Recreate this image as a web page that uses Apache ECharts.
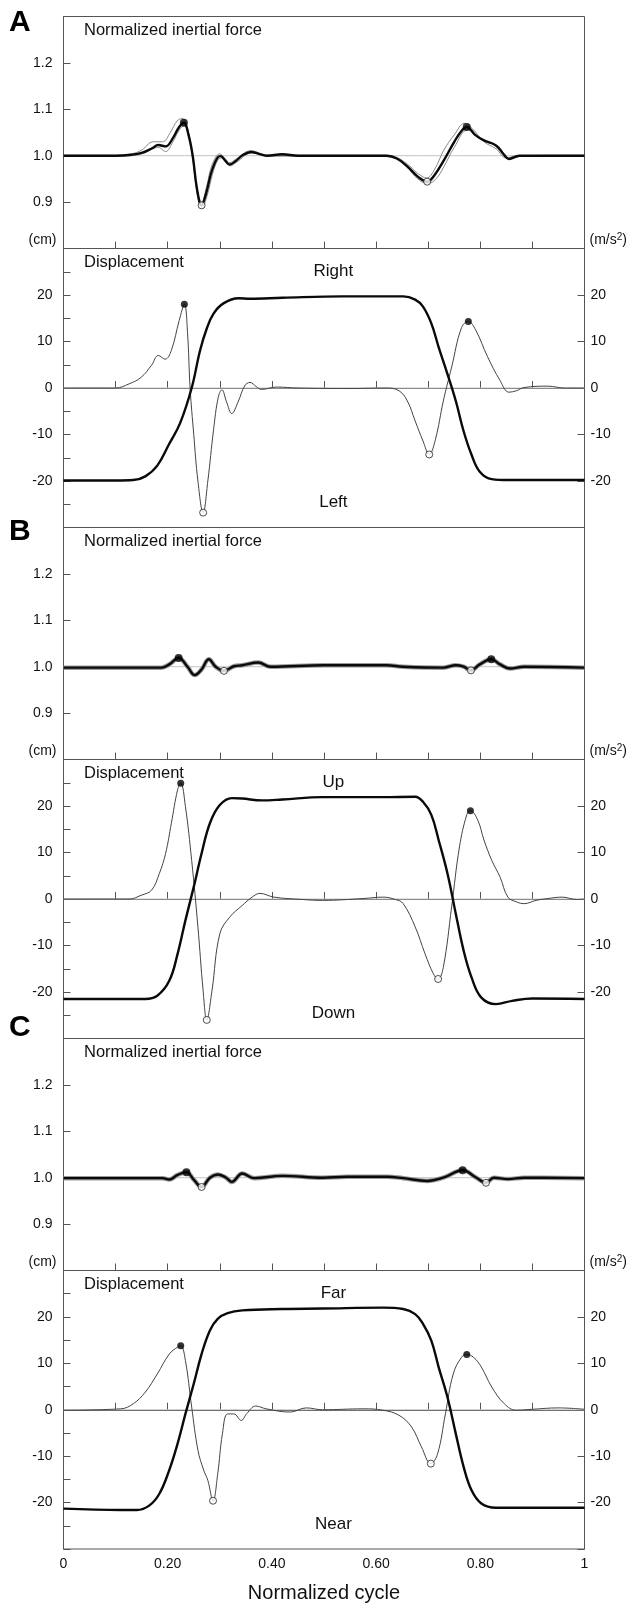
<!DOCTYPE html>
<html>
<head>
<meta charset="utf-8">
<script src="https://cdn.jsdelivr.net/npm/echarts@6/dist/echarts.min.js"></script>
<style>
html, body { margin: 0; padding: 0; background: #fff; }
#chart { width: 632px; height: 1604px; }
</style>
</head>
<body>
<div id="chart"></div>
<script>
// ---- A: left / right ----
const aForce = [[0,1.0],[0.1,1.0],[0.13,1.002],[0.15,1.006],[0.17,1.016],[0.182,1.023],[0.196,1.02],[0.21,1.038],[0.222,1.062],[0.231,1.071],[0.24,1.045],[0.248,1.0],[0.256,0.93],[0.265,0.893],[0.274,0.92],[0.284,0.965],[0.295,0.995],[0.302,0.999],[0.31,0.99],[0.319,0.981],[0.33,0.988],[0.345,1.002],[0.36,1.008],[0.375,1.004],[0.39,1.0],[0.42,1.003],[0.45,1.0],[0.55,1.0],[0.62,1.0],[0.64,0.994],[0.66,0.977],[0.68,0.955],[0.698,0.944],[0.712,0.958],[0.73,0.99],[0.75,1.03],[0.765,1.055],[0.774,1.062],[0.79,1.045],[0.807,1.033],[0.83,1.022],[0.845,1.003],[0.855,0.993],[0.875,1.0],[1,1.0]];
const aForceHi = [[0,1.001],[0.1,1.001],[0.13,1.004],[0.15,1.012],[0.172,1.03],[0.19,1.03],[0.205,1.05],[0.218,1.075],[0.228,1.08],[0.238,1.06],[0.247,1.0],[0.256,0.93],[0.265,0.9],[0.275,0.935],[0.285,0.98],[0.3,1.004],[0.31,0.994],[0.319,0.985],[0.33,0.992],[0.36,1.011],[0.39,1.001],[0.45,1.001],[0.62,1.001],[0.64,0.996],[0.66,0.982],[0.68,0.962],[0.697,0.952],[0.712,0.97],[0.73,1.012],[0.75,1.045],[0.77,1.07],[0.785,1.058],[0.807,1.03],[0.83,1.015],[0.85,0.995],[0.87,1.0],[1,1.001]];
const aForceLo = [[0,0.999],[0.1,0.999],[0.13,1.0],[0.15,1.004],[0.17,1.014],[0.182,1.018],[0.196,1.009],[0.21,1.03],[0.222,1.055],[0.232,1.066],[0.24,1.04],[0.249,0.99],[0.257,0.915],[0.266,0.888],[0.276,0.915],[0.286,0.96],[0.296,0.99],[0.304,0.995],[0.312,0.986],[0.32,0.978],[0.332,0.986],[0.362,1.006],[0.39,0.999],[0.45,0.999],[0.62,0.999],[0.64,0.992],[0.66,0.974],[0.68,0.95],[0.699,0.94],[0.715,0.95],[0.73,0.976],[0.75,1.018],[0.776,1.056],[0.795,1.04],[0.81,1.03],[0.835,1.02],[0.855,0.992],[0.88,0.999],[1,0.999]];
const aForcePeaks = [[0.231,1.071],[0.774,1.062]];
const aForceDips = [[0.265,0.893],[0.698,0.944]];
const aDisp = [[0,-19.9],[0.1,-19.9],[0.134,-19.8],[0.157,-19],[0.18,-16.7],[0.203,-12],[0.224,-7.5],[0.246,0],[0.262,8],[0.275,12.8],[0.288,16],[0.307,18.2],[0.336,19.3],[0.358,19.2],[0.42,19.4],[0.536,19.7],[0.652,19.7],[0.675,19],[0.69,17.5],[0.706,13.9],[0.72,8.8],[0.737,3],[0.753,-2.8],[0.768,-9.3],[0.783,-14.3],[0.799,-18],[0.822,-19.6],[0.853,-19.8],[1,-19.8]];
const aAcc = [[0,0],[0.1,0],[0.126,0.9],[0.149,2.3],[0.169,4.9],[0.182,7],[0.195,6.2],[0.207,8.1],[0.222,14.5],[0.232,18],[0.238,12],[0.243,0],[0.25,-10],[0.258,-20],[0.268,-26.8],[0.277,-20],[0.288,-9],[0.297,-2],[0.304,-0.4],[0.313,-3],[0.323,-5.5],[0.335,-3],[0.348,0.5],[0.358,1.2],[0.37,0.3],[0.38,-0.3],[0.409,0.2],[0.45,0],[0.55,-0.1],[0.62,0],[0.644,-0.6],[0.66,-2.8],[0.675,-7.1],[0.69,-11.4],[0.702,-14.3],[0.714,-11],[0.729,-2.8],[0.745,4.5],[0.764,13],[0.777,14.3],[0.791,12.5],[0.814,6.7],[0.838,1.6],[0.855,-0.9],[0.869,-0.6],[0.884,0.1],[0.93,0.4],[0.961,0],[1,0]];
const aAccPeaks = [[0.232,18],[0.777,14.3]];
const aAccDips = [[0.268,-26.8],[0.702,-14.3]];

// ---- B: up / down ----
const bForce = [[0,0.998],[0.188,0.998],[0.203,1.005],[0.221,1.019],[0.238,1.0],[0.252,0.982],[0.265,0.994],[0.279,1.016],[0.292,1.0],[0.308,0.991],[0.327,1.001],[0.343,1.003],[0.374,1.009],[0.397,1.0],[0.5,1.003],[0.62,1.003],[0.652,1.0],[0.729,0.998],[0.753,1.003],[0.768,1.0],[0.782,0.992],[0.799,1.005],[0.821,1.016],[0.838,1.005],[0.857,0.996],[0.884,1.0],[1,0.998]];
const bForcePeaks = [[0.221,1.019],[0.821,1.016]];
const bForceDips = [[0.308,0.991],[0.782,0.992]];
const bDisp = [[0,-21.5],[0.157,-21.5],[0.18,-20.8],[0.203,-17.6],[0.219,-11.8],[0.234,-4.6],[0.25,2.6],[0.265,9.8],[0.281,16.3],[0.3,20.2],[0.323,21.7],[0.343,21.6],[0.381,21.2],[0.42,21.4],[0.497,21.9],[0.613,21.9],[0.675,22],[0.69,20.9],[0.706,18.1],[0.72,12.7],[0.737,5.5],[0.753,-3.2],[0.768,-11.1],[0.783,-16.8],[0.802,-21.2],[0.83,-22.6],[0.861,-21.9],[0.9,-21.4],[1,-21.5]];
const bAcc = [[0,0],[0.126,0],[0.149,0.8],[0.169,1.9],[0.184,5.5],[0.196,9.8],[0.207,16.3],[0.219,23.5],[0.225,24.9],[0.234,19.9],[0.246,8.3],[0.258,-6],[0.268,-19.7],[0.275,-26],[0.285,-19.7],[0.3,-7.5],[0.319,-3.9],[0.343,-1.4],[0.362,0.4],[0.377,1.2],[0.404,0.4],[0.458,-0.1],[0.497,-0.3],[0.575,0.1],[0.613,0.4],[0.637,-0.1],[0.652,-1],[0.675,-6],[0.694,-11.8],[0.71,-16.1],[0.719,-17.2],[0.729,-14.7],[0.745,-1.7],[0.76,11.2],[0.774,18.1],[0.781,19],[0.795,17],[0.807,12.7],[0.822,8.3],[0.838,4.7],[0.853,0.4],[0.869,-0.6],[0.884,-1],[0.907,-0.3],[0.93,0.1],[0.957,0.4],[0.985,-0.1],[1,0]];
const bAccPeaks = [[0.225,24.9],[0.781,19]];
const bAccDips = [[0.275,-26],[0.719,-17.2]];

// ---- C: far / near ----
const cForce = [[0,0.999],[0.19,0.999],[0.203,0.996],[0.219,1.006],[0.236,1.012],[0.25,0.996],[0.265,0.98],[0.281,1.0],[0.296,1.007],[0.312,1.0],[0.323,0.991],[0.343,1.009],[0.366,0.999],[0.42,1.004],[0.497,1.0],[0.544,1.002],[0.621,1.002],[0.652,0.999],[0.698,0.993],[0.729,1.0],[0.766,1.016],[0.791,1.001],[0.811,0.989],[0.826,1.0],[0.853,0.997],[0.884,1.0],[1,0.999]];
const cForcePeaks = [[0.236,1.012],[0.766,1.016]];
const cForceDips = [[0.265,0.98],[0.811,0.989]];
const cDisp = [[0,-21.3],[0.11,-21.6],[0.141,-21.6],[0.165,-20.6],[0.184,-18.1],[0.203,-13],[0.219,-7.3],[0.234,-0.9],[0.25,5.6],[0.265,12],[0.281,17.1],[0.296,19.6],[0.315,20.8],[0.343,21.4],[0.42,21.7],[0.497,21.8],[0.613,22],[0.652,21.7],[0.675,20.6],[0.69,18.5],[0.706,14.9],[0.72,9.2],[0.737,2.7],[0.753,-5.2],[0.768,-12.3],[0.783,-17.3],[0.802,-20.2],[0.83,-21.1],[0.884,-21.1],[1,-21.1]];
const cAcc = [[0,-0.1],[0.11,0.2],[0.134,1.3],[0.157,3.8],[0.18,7.7],[0.203,12],[0.219,13.5],[0.225,13.8],[0.234,10.6],[0.246,0.6],[0.258,-8.7],[0.269,-13],[0.277,-15.2],[0.287,-19.6],[0.296,-13.8],[0.305,-5.2],[0.315,-0.9],[0.327,-0.9],[0.341,-2.3],[0.352,-0.8],[0.369,0.8],[0.389,0.2],[0.435,-0.5],[0.466,0.4],[0.497,0],[0.575,0.2],[0.613,-0.1],[0.644,-1.2],[0.668,-3.7],[0.687,-8],[0.705,-11.6],[0.718,-9.5],[0.733,-0.9],[0.748,7.7],[0.764,11.3],[0.774,11.9],[0.787,11.3],[0.802,9.2],[0.822,4.9],[0.846,1.3],[0.869,-0.1],[0.9,0.1],[0.95,0.4],[1,0.1]];
const cAccPeaks = [[0.225,13.8],[0.774,11.9]];
const cAccDips = [[0.287,-19.6],[0.705,-11.6]];

const panelLetters = ['A', 'B', 'C'];
const dirLabels = [['Right', 'Left'], ['Up', 'Down'], ['Far', 'Near']];

// layout
const FONT = '"Liberation Sans", Arial, Helvetica, sans-serif';
const INK = '#111';
const FRAME = '#555';
const plotLeft = 63.5, plotRight = 47.5;
const blockTop = [16.5, 527.5, 1038.5];
const letterY = [23, 532, 1028];
const forceH = 232, dispH = 279;

const chart = echarts.init(document.getElementById('chart'));

const blocks = [
  { force: aForce, hi: aForceHi, lo: aForceLo, fPeaks: aForcePeaks, fDips: aForceDips, disp: aDisp, acc: aAcc, aPeaks: aAccPeaks, aDips: aAccDips },
  { force: bForce, fPeaks: bForcePeaks, fDips: bForceDips, disp: bDisp, acc: bAcc, aPeaks: bAccPeaks, aDips: bAccDips },
  { force: cForce, fPeaks: cForcePeaks, fDips: cForceDips, disp: cDisp, acc: cAcc, aPeaks: cAccPeaks, aDips: cAccDips }
];

const grid = [], xAxis = [], yAxis = [], series = [], graphic = [];

function baseX(gi, last) {
  return {
    type: 'value', gridIndex: gi, min: 0, max: 1, interval: 0.1,
    axisLine: { show: true, lineStyle: { color: FRAME, width: 1 } },
    axisTick: { show: true, inside: true, length: 7, lineStyle: { color: FRAME } },
    splitLine: { show: false },
    axisLabel: {
      show: last, margin: 8, color: INK, fontSize: 14, fontFamily: FONT,
      formatter: function (v) {
        const r = Math.round(v * 10);
        if (r === 0) return '0';
        if (r === 10) return '1';
        return r % 2 === 0 ? v.toFixed(2) : '';
      }
    },
    name: last ? 'Normalized cycle' : '',
    nameLocation: 'middle', nameGap: 34,
    nameTextStyle: { color: INK, fontSize: 20, fontFamily: FONT }
  };
}

function line(xi, yi, data, width, color, z) {
  return {
    type: 'line', xAxisIndex: xi, yAxisIndex: yi, data: data,
    showSymbol: false, smooth: 0.4, z: z, silent: true,
    lineStyle: { width: width, color: color }
  };
}

function dots(xi, yi, data, filled, size) {
  return {
    type: 'scatter', xAxisIndex: xi, yAxisIndex: yi, data: data,
    symbol: 'circle', symbolSize: size, z: 10, silent: true,
    itemStyle: filled ? { color: '#000' } : { color: '#fff', borderColor: '#222', borderWidth: 1 }
  };
}

blocks.forEach(function (b, k) {
  const fTop = blockTop[k];
  const dTop = fTop + forceH;
  const gF = k * 2, gD = k * 2 + 1;
  const yF = k * 3, yDL = k * 3 + 1, yDR = k * 3 + 2;

  grid.push({ left: plotLeft, right: plotRight, top: fTop, height: forceH, show: true, borderColor: FRAME, borderWidth: 1 });
  grid.push({ left: plotLeft, right: plotRight, top: dTop, height: dispH, show: true, borderColor: FRAME, borderWidth: 1 });

  xAxis.push(baseX(gF, false));
  xAxis.push(baseX(gD, k === 2));

  yAxis.push({
    type: 'value', gridIndex: gF, position: 'left', min: 0.8, max: 1.3, interval: 0.1,
    axisLine: { show: true, lineStyle: { color: FRAME } },
    axisTick: { show: true, inside: true, length: 7, lineStyle: { color: FRAME } },
    splitLine: { show: false },
    axisLabel: {
      margin: 11, color: INK, fontSize: 14, fontFamily: FONT,
      formatter: function (v) { return (v > 0.85 && v < 1.25) ? v.toFixed(1) : ''; }
    }
  });
  yAxis.push({
    type: 'value', gridIndex: gD, position: 'left', min: -30, max: 30, interval: 5,
    axisLine: { show: true, lineStyle: { color: FRAME } },
    axisTick: { show: true, inside: true, length: 7, lineStyle: { color: FRAME } },
    splitLine: { show: false },
    axisLabel: {
      margin: 11, color: INK, fontSize: 14, fontFamily: FONT,
      formatter: function (v) { return (Math.abs(v) <= 20 && v % 10 === 0) ? String(v) : ''; }
    },
    name: '(cm)', nameLocation: 'end', nameGap: 8,
    nameTextStyle: { color: INK, fontSize: 14, fontFamily: FONT, align: 'right', verticalAlign: 'middle', padding: [0, 7, 0, 0] }
  });
  yAxis.push({
    type: 'value', gridIndex: gD, position: 'right', min: -30, max: 30, interval: 10,
    axisLine: { show: true, lineStyle: { color: FRAME } },
    axisTick: { show: true, inside: true, length: 7, lineStyle: { color: FRAME } },
    splitLine: { show: false },
    axisLabel: {
      margin: 6, color: INK, fontSize: 14, fontFamily: FONT,
      formatter: function (v) { return (Math.abs(v) <= 20) ? String(v) : ''; }
    },
    name: '(m/s{s|2})', nameLocation: 'end', nameGap: 8,
    nameTextStyle: {
      color: INK, fontSize: 14, fontFamily: FONT, align: 'left', verticalAlign: 'middle', padding: [0, 0, 0, 5],
      rich: { s: { fontSize: 10, fontFamily: FONT, color: INK, padding: [0, 0, 7, 0] } }
    }
  });

  // reference lines
  series.push(line(gF, yF, [[0, 1], [1, 1]], 1, '#c4c4c4', 1));
  series.push(line(gD, yDL, [[0, 0], [1, 0]], 1, '#c4c4c4', 1));

  // inertial force
  if (b.hi) {
    series.push(line(gF, yF, b.hi, 1, '#8a8a8a', 2));
    series.push(line(gF, yF, b.lo, 1, '#8a8a8a', 2));
  } else {
    series.push(line(gF, yF, b.force, 4.5, '#9a9a9a', 2));
  }
  series.push(line(gF, yF, b.force, 2.4, '#0a0a0a', 3));
  series.push(dots(gF, yF, b.fPeaks, true, 8));
  series.push(dots(gF, yF, b.fDips, false, 7));

  // displacement + acceleration
  series.push(line(gD, yDL, b.acc, 1, '#444', 2));
  series.push(line(gD, yDL, b.disp, 2.4, '#0a0a0a', 3));
  series.push(dots(gD, yDL, b.aPeaks, true, 7));
  series.push(dots(gD, yDL, b.aDips, false, 7));

  // texts
  const txt = function (x, y, s, align, size) {
    graphic.push({
      type: 'text', x: x, y: y, silent: true, z: 20,
      style: { text: s, fill: INK, font: size + 'px ' + FONT, align: align, verticalAlign: 'middle' }
    });
  };
  txt(84, fTop + 13.5, 'Normalized inertial force', 'left', 16.5);
  txt(84, dTop + 13.5, 'Displacement', 'left', 16.5);
  const cx = plotLeft + 0.518 * (632 - plotLeft - plotRight);
  const yOf = function (v) { return dTop + (30 - v) / 60 * dispH; };
  txt(cx, yOf(25), dirLabels[k][0], 'center', 17);
  txt(cx, yOf(-24.5), dirLabels[k][1], 'center', 17);

  graphic.push({
    type: 'text', x: 9, y: letterY[k], silent: true,
    style: { text: panelLetters[k], fill: '#000', font: 'bold 30px ' + FONT, align: 'left', verticalAlign: 'middle' }
  });
});

chart.setOption({
  animation: false,
  backgroundColor: '#fff',
  grid: grid,
  xAxis: xAxis,
  yAxis: yAxis,
  series: series,
  graphic: graphic
});
</script>
</body>
</html>
